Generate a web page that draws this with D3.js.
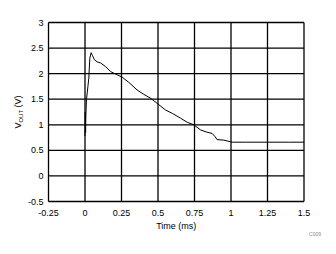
<!DOCTYPE html>
<html>
<head>
<meta charset="utf-8">
<script src="https://cdn.jsdelivr.net/npm/d3@7"></script>
<style>
  body { margin: 0; background: #fff; }
  text { font-family: "Liberation Sans", Arial, sans-serif; }
</style>
</head>
<body>
<div id="chart"></div>
<script>
const xTicks = [-0.25, 0, 0.25, 0.5, 0.75, 1, 1.25, 1.5];
const yTicks = [-0.5, 0, 0.5, 1, 1.5, 2, 2.5, 3];

// time (ms) and Vout (V)
const timeMs = [0.000, 0.002, 0.004, 0.006, 0.010, 0.020, 0.026, 0.033, 0.042, 0.052, 0.065, 0.084, 0.106, 0.140, 0.175, 0.197, 0.255, 0.300, 0.357, 0.400, 0.449, 0.494, 0.551, 0.600, 0.654, 0.700, 0.745, 0.791, 0.830, 0.871, 0.890, 0.905, 0.951, 1.008, 1.100, 1.250, 1.400, 1.500];
const vout =   [0.78,  1.25,  0.85,  1.20,  1.49,  1.75,  1.91,  2.30,  2.41,  2.35,  2.27,  2.23,  2.21,  2.14,  2.04,  2.01,  1.93,  1.83,  1.68,  1.60,  1.52,  1.42,  1.29,  1.22,  1.13,  1.05,  1.00,  0.90,  0.86,  0.83,  0.77,  0.71,  0.70,  0.66,  0.66,  0.66,  0.66,  0.66];

const W = 336, H = 254;
const margin = { top: 22.5, right: 32, bottom: 52.5, left: 48.5 };

const svg = d3.select("#chart").append("svg")
    .attr("width", W)
    .attr("height", H);

const x = d3.scaleLinear()
    .domain([-0.25, 1.5])
    .range([margin.left, W - margin.right]);

const y = d3.scaleLinear()
    .domain([-0.5, 3])
    .range([H - margin.bottom, margin.top]);

// grid
svg.append("g")
    .selectAll("line")
    .data(xTicks)
    .enter()
    .append("line")
    .attr("x1", d => x(d))
    .attr("x2", d => x(d))
    .attr("y1", y(-0.5))
    .attr("y2", y(3))
    .attr("stroke", "#000")
    .attr("stroke-width", 1.3);

svg.append("g")
    .selectAll("line")
    .data(yTicks)
    .enter()
    .append("line")
    .attr("x1", x(-0.25))
    .attr("x2", x(1.5))
    .attr("y1", d => y(d))
    .attr("y2", d => y(d))
    .attr("stroke", "#000")
    .attr("stroke-width", 1.3);

// tick labels
svg.append("g")
    .selectAll("text")
    .data(yTicks)
    .enter()
    .append("text")
    .attr("x", x(-0.25) - 5)
    .attr("y", d => y(d) + 3)
    .attr("text-anchor", "end")
    .attr("font-size", 9)
    .text(d => d);

svg.append("g")
    .selectAll("text")
    .data(xTicks)
    .enter()
    .append("text")
    .attr("x", d => x(d))
    .attr("y", y(-0.5) + 14)
    .attr("text-anchor", "middle")
    .attr("font-size", 9)
    .text(d => d);

// trace
const line = d3.line()
    .x((d, i) => x(timeMs[i]))
    .y(d => y(d));

svg.append("path")
    .datum(vout)
    .attr("d", line)
    .attr("fill", "none")
    .attr("stroke", "#000")
    .attr("stroke-width", 1);

// axis titles
svg.append("text")
    .attr("x", (x(-0.25) + x(1.5)) / 2)
    .attr("y", y(-0.5) + 27)
    .attr("text-anchor", "middle")
    .attr("font-size", 9)
    .text("Time (ms)");

const yTitle = svg.append("text")
    .attr("text-anchor", "middle")
    .attr("transform", `translate(21,${(y(-0.5) + y(3)) / 2}) rotate(-90)`)
    .attr("font-size", 9);
yTitle.append("tspan").text("V");
yTitle.append("tspan").attr("font-size", 6).attr("dy", 2).text("OUT");
yTitle.append("tspan").attr("dy", -2).text(" (V)");

svg.append("text")
    .attr("x", 321)
    .attr("y", 236)
    .attr("text-anchor", "end")
    .attr("font-size", 5)
    .attr("fill", "#888")
    .text("C009");
</script>
</body>
</html>
